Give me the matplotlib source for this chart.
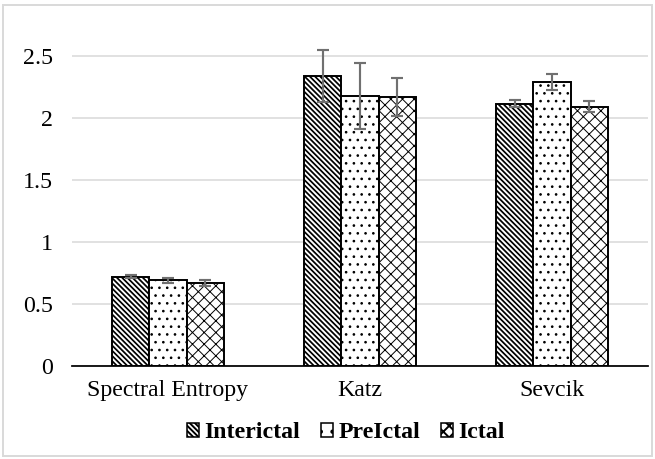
import matplotlib
matplotlib.use("Agg")
import matplotlib.pyplot as plt
import numpy as np
from matplotlib.patches import Rectangle, Patch

categories = ["Spectral Entropy", "Katz", "Sevcik"]
series = ["Interictal", "PreIctal", "Ictal"]
interictal = [0.72, 2.34, 2.115]
preictal = [0.69, 2.18, 2.29]
ictal = [0.67, 2.17, 2.09]
interictal_err = [0.012, 0.21, 0.03]
preictal_err = [0.02, 0.265, 0.065]
ictal_err = [0.025, 0.155, 0.045]
yticks = [0, 0.5, 1, 1.5, 2, 2.5]

DPI = 140
W, H = 655, 459
fig = plt.figure(figsize=(W / DPI, H / DPI), dpi=DPI)
fig.patches.append(Rectangle((3 / W, 3 / H), 1 - 6 / W, 1 - 8 / H, transform=fig.transFigure,
                             fill=False, edgecolor="#d9d9d9", linewidth=1.0))

ymax = 2.7
px_per_unit = 124.0
left, right, bottom = 72, 648, 366
top = bottom - ymax * px_per_unit
ax = fig.add_axes([left / W, 1 - bottom / H, (right - left) / W, (bottom - top) / H])

font = "Liberation Serif"
hatches = ["\\" * 9, "...", "xxxx"]
hatch_lws = [0.9, 0.55, 0.5]
vals = [interictal, preictal, ictal]
errs = [interictal_err, preictal_err, ictal_err]
x = np.arange(len(categories))
bw = 0.193


def set_hlw(p, lw):
    if hasattr(p, "set_hatch_linewidth"):
        p.set_hatch_linewidth(lw)


for i, (v, e, h, hl, name) in enumerate(zip(vals, errs, hatches, hatch_lws, series)):
    with plt.rc_context({"hatch.linewidth": hl}):
        bars = ax.bar(x + (i - 1) * bw, v, bw, color="white", edgecolor="black", linewidth=1.0,
                      hatch=h, label=name, zorder=2)
    for b in bars:
        set_hlw(b, hl)
    ax.errorbar(x + (i - 1) * bw, v, yerr=e, fmt="none", ecolor="#707070", elinewidth=1.1,
                capsize=3.2, capthick=1.1, zorder=3)

ax.set_xlim(-0.5, 2.5)
ax.set_ylim(0, ymax)
ax.set_yticks(yticks)
ax.set_yticklabels(["0", "0.5", "1", "1.5", "2", "2.5"], fontfamily=font, fontsize=12.3)
ax.set_xticks(x)
ax.set_xticklabels(categories, fontfamily=font, fontsize=12.3)
ax.tick_params(axis="both", length=0)
ax.tick_params(axis="y", pad=10)
ax.tick_params(axis="x", pad=7)
ax.yaxis.grid(True, color="#d9d9d9", linewidth=0.8, zorder=0)
ax.set_axisbelow(True)
for s in ["left", "right", "top"]:
    ax.spines[s].set_visible(False)
ax.spines["bottom"].set_linewidth(0.9)
ax.spines["bottom"].set_zorder(4)

handles = []
for h, hl in zip(["\\" * 9, "..", "xxxx"], [0.7, 0.6, 0.45]):
    with plt.rc_context({"hatch.linewidth": hl}):
        p = Patch(facecolor="white", edgecolor="black", hatch=h, linewidth=0.8)
    set_hlw(p, hl)
    handles.append(p)
leg = fig.legend(handles, series, loc="center", bbox_to_anchor=(346 / W, 1 - 433 / H), ncol=3,
                 frameon=False, prop={"family": font, "weight": "bold", "size": 12.3},
                 handlelength=0.5, handleheight=0.5, handletextpad=0.2, columnspacing=0.9)

fig.savefig("out.png", dpi=DPI)
